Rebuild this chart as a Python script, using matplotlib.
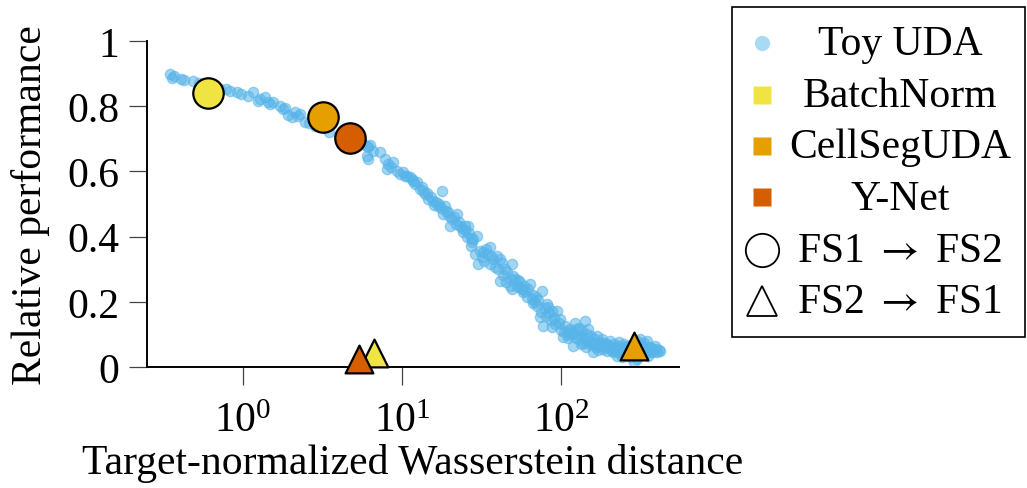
"""Relative performance vs. target-normalized Wasserstein distance."""

import matplotlib

matplotlib.use("Agg")
import matplotlib.pyplot as plt
from matplotlib.lines import Line2D
from matplotlib.patches import Rectangle
from matplotlib.ticker import FixedLocator, FuncFormatter

plt.rcParams["font.family"] = ["Liberation Serif", "DejaVu Serif"]
plt.rcParams["mathtext.fontset"] = "custom"
plt.rcParams["mathtext.rm"] = "Liberation Serif"
plt.rcParams["mathtext.it"] = "Liberation Serif:italic"

# toy UDA sweep: (distance, relative performance)
toy_uda = [
    (0.35, 0.899), (0.36, 0.887), (0.37, 0.893), (0.41, 0.883), (0.43, 0.880),
    (0.49, 0.877), (0.53, 0.872), (0.57, 0.866), (0.66, 0.858), (0.72, 0.853),
    (0.79, 0.853), (0.83, 0.847), (0.92, 0.844), (0.97, 0.838), (1.08, 0.831),
    (1.16, 0.844), (1.24, 0.816), (1.28, 0.822), (1.37, 0.828), (1.44, 0.813),
    (1.48, 0.807), (1.55, 0.812), (1.71, 0.801), (1.79, 0.791), (1.84, 0.795),
    (1.92, 0.772), (2.03, 0.767), (2.12, 0.782), (2.22, 0.770), (2.28, 0.776),
    (2.46, 0.752), (2.62, 0.748), (2.85, 0.740),
    (3.1, 0.735), (3.5, 0.722), (4.0, 0.712), (4.5, 0.700), (5.2, 0.690),
    (5.7, 0.684), (6.0, 0.678), (6.1, 0.675), (6.3, 0.680), (6.0, 0.647),
    (6.1, 0.638), (6.6, 0.662), (7.3, 0.660), (7.8, 0.638), (8.0, 0.607),
    (8.2, 0.623), (8.5, 0.615), (8.8, 0.629), (9.3, 0.600), (9.7, 0.592),
    (10.15, 0.598), (10.45, 0.586), (10.75, 0.586), (11.2, 0.583), (11.6, 0.577),
    (11.7, 0.571), (12.0, 0.560), (12.4, 0.567), (13.0, 0.546), (13.3, 0.553),
    (13.5, 0.540), (14.0, 0.531), (14.4, 0.535), (14.6, 0.515), (15.2, 0.520),
    (15.7, 0.509), (15.9, 0.498), (16.3, 0.505), (16.8, 0.494), (17.2, 0.500),
    (17.6, 0.487), (17.9, 0.540), (18.1, 0.469), (18.6, 0.494), (19.0, 0.480),
    (19.5, 0.475), (19.8, 0.462), (20.0, 0.433), (20.6, 0.454), (21.3, 0.460),
    (21.8, 0.440), (22.2, 0.469), (22.8, 0.445), (23.2, 0.433), (23.7, 0.425),
    (24.2, 0.414), (24.8, 0.433), (25.0, 0.420), (25.5, 0.398), (26.0, 0.433),
    (26.5, 0.410), (27.0, 0.395), (27.3, 0.372), (27.6, 0.383), (28.0, 0.392),
    (28.8, 0.347), (29.6, 0.402), (30.1, 0.316),
    (31.0, 0.355), (31.8, 0.338), (32.3, 0.353), (33.0, 0.325), (33.5, 0.362),
    (34.3, 0.347), (35.8, 0.368), (36.0, 0.315), (36.5, 0.340), (37.5, 0.330),
    (38.5, 0.307), (39.6, 0.340), (40.2, 0.300), (41.3, 0.330), (41.3, 0.264),
    (42.5, 0.318), (43.0, 0.282), (44.4, 0.301), (45.3, 0.262), (46.0, 0.290),
    (47.8, 0.248), (48.5, 0.270), (49.2, 0.316), (49.2, 0.239), (49.9, 0.279),
    (51.0, 0.270), (52.9, 0.248), (53.5, 0.268), (54.0, 0.245), (55.2, 0.261),
    (56.5, 0.240), (57.7, 0.230), (58.5, 0.248), (59.4, 0.232), (61.0, 0.215),
    (62.0, 0.240), (63.9, 0.255), (65.7, 0.209), (66.5, 0.195), (67.0, 0.220),
    (68.5, 0.200), (69.5, 0.215), (70.7, 0.187), (72.0, 0.205), (73.8, 0.153),
    (75.0, 0.170), (76.0, 0.233), (77.1, 0.126), (79.0, 0.180), (80.5, 0.158),
    (81.7, 0.193), (83.0, 0.185), (84.0, 0.165), (86.0, 0.145), (87.8, 0.172),
    (87.8, 0.123), (90.0, 0.150), (92.0, 0.132), (94.4, 0.172), (96.5, 0.135),
    (98.6, 0.147), (99.5, 0.115),
    (103, 0.092), (104, 0.108), (106, 0.125), (110, 0.110), (110, 0.088),
    (112, 0.098), (114, 0.117), (117, 0.100), (118, 0.105), (119, 0.064),
    (122, 0.135), (124, 0.088), (126, 0.117), (129, 0.085), (130, 0.120),
    (132, 0.095), (134, 0.072), (135, 0.110), (138, 0.075), (140, 0.090),
    (141.5, 0.141), (143, 0.062), (145, 0.100), (148, 0.117), (150, 0.070),
    (152, 0.080), (155, 0.095), (157, 0.075), (159, 0.046), (160, 0.068),
    (162, 0.085), (165, 0.060), (168, 0.095), (170, 0.052), (172, 0.075),
    (176, 0.064), (178, 0.078), (180, 0.085), (184, 0.055), (188, 0.072),
    (190, 0.062), (194, 0.049), (195, 0.070), (198, 0.065), (203, 0.080),
    (205, 0.052), (208, 0.058), (212, 0.045), (214, 0.070), (218, 0.062),
    (220, 0.050), (225, 0.034), (228, 0.045), (230, 0.065), (230, 0.078),
    (235, 0.055), (240, 0.030), (242, 0.045), (245, 0.058), (248, 0.070),
    (250, 0.040), (255, 0.060), (260, 0.046), (262, 0.065), (268, 0.055),
    (270, 0.030), (275, 0.040), (278, 0.058), (282, 0.068), (285, 0.015),
    (290, 0.050), (295, 0.062), (300, 0.030), (300, 0.080), (301, 0.025),
    (308, 0.060), (312, 0.050), (314, 0.086), (320, 0.045), (328, 0.065),
    (330, 0.075), (335, 0.040), (340, 0.055), (347, 0.080), (353, 0.034),
    (360, 0.060), (365, 0.045), (373, 0.055), (380, 0.045), (390, 0.065),
    (395, 0.055), (402, 0.046), (410, 0.052), (420, 0.050),
]
toy_x, toy_y = zip(*toy_uda)

methods = ["BatchNorm", "CellSegUDA", "Y-Net"]
method_colors = ["#F0E442", "#E69F00", "#D55E00"]
fs1_to_fs2_x = [0.607, 3.19, 4.71]
fs1_to_fs2_y = [0.839, 0.767, 0.701]
fs2_to_fs1_x = [6.67, 288, 5.37]
fs2_to_fs1_y = [0.043, 0.064, 0.025]

toy_color = "#56B4E9"

fig = plt.figure(figsize=(10.27, 4.89), dpi=100)
ax = fig.add_axes([0.1431, 0.2474, 0.5180, 0.6667])

ax.scatter(toy_x, toy_y, s=55, color=toy_color, alpha=0.55, linewidths=1,
           edgecolors=toy_color, zorder=2)
for i, c in enumerate(method_colors):
    ax.scatter(fs1_to_fs2_x[i], fs1_to_fs2_y[i], s=480, marker="o", color=c,
               edgecolors="black", linewidths=1.6, zorder=3 + i)
    ax.scatter(fs2_to_fs1_x[i], fs2_to_fs1_y[i], s=400, marker="^", color=c,
               edgecolors="black", linewidths=1.6, zorder=3 + i, clip_on=False)

ax.set_xscale("log")
ax.set_xlim(0.25, 550)
ax.set_ylim(0, 1)
ax.xaxis.set_major_locator(FixedLocator([1, 10, 100]))
ax.xaxis.set_minor_locator(FixedLocator([]))
ax.set_yticks([0, 0.2, 0.4, 0.6, 0.8, 1])
ax.yaxis.set_major_formatter(FuncFormatter(lambda v, _p: f"{v:g}"))
for side in ("top", "right"):
    ax.spines[side].set_visible(False)
for side in ("left", "bottom"):
    ax.spines[side].set_linewidth(1.4)
ax.tick_params(axis="both", which="major", labelsize=30, length=13,
               width=0.9, color="#444444")
ax.tick_params(axis="y", pad=7)
ax.tick_params(axis="x", pad=12)
ax.set_xlabel("Target-normalized Wasserstein distance", fontsize=30, labelpad=2)
ax.set_ylabel("Relative performance", fontsize=30, labelpad=12)

# legend drawn by hand so the labels sit centred in their column
fig.add_artist(Rectangle((0.7128, 0.3088), 0.2853, 0.6748, transform=fig.transFigure,
                         fill=False, edgecolor="black", linewidth=1.2))
rows_y = [0.8875, 0.7812, 0.6769, 0.5706, 0.4642, 0.3599]
mark_dy = 0.0235
mark_x = 0.742
text_x = 0.8763
labels = ["Toy UDA"] + methods + [r"FS1 $\rightarrow$ FS2", r"FS2 $\rightarrow$ FS1"]
handles = [dict(marker="o", ms=11, mfc=toy_color, mec="none", alpha=0.5)]
handles += [dict(marker="s", ms=12.5, mfc=c, mec="none") for c in method_colors]
handles += [dict(marker="o", ms=24, mfc="white", mec="black", mew=1.3),
            dict(marker="^", ms=21, mfc="white", mec="black", mew=1.3)]
for y, lab, h in zip(rows_y, labels, handles):
    fig.add_artist(Line2D([mark_x], [y + mark_dy], transform=fig.transFigure,
                          linestyle="none", **h))
    fig.text(text_x, y, lab, ha="center", va="baseline", fontsize=30,
             math_fontfamily="stix")

fig.savefig("out.png", dpi=100)
